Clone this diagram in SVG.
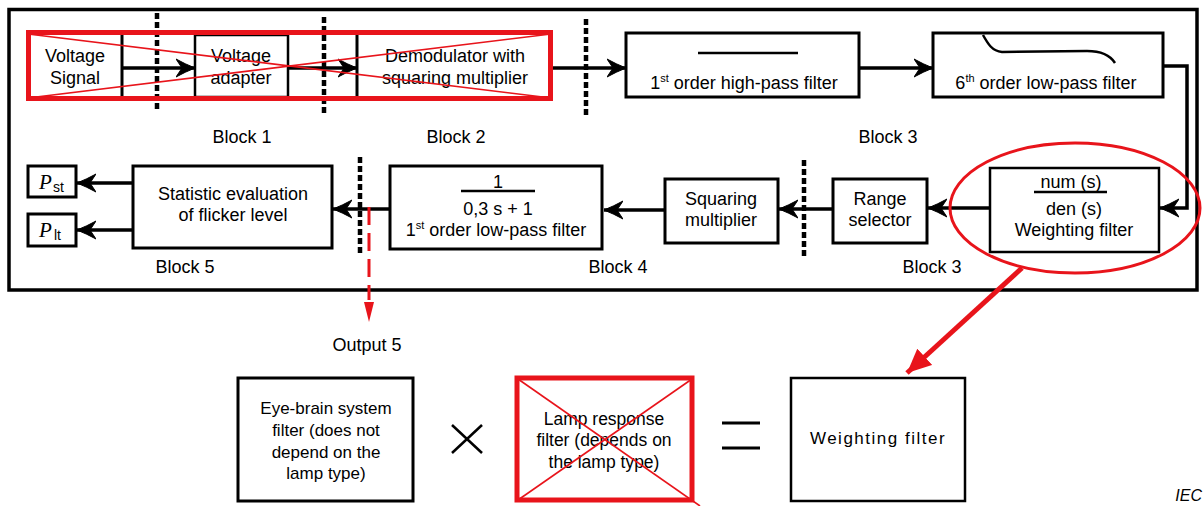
<svg xmlns="http://www.w3.org/2000/svg" width="1203" height="506" viewBox="0 0 1203 506">
<defs>
<style>
text{font-family:"Liberation Sans",Arial,sans-serif;fill:#000}
.t18{font-size:18px;text-anchor:middle}
.t17{font-size:17px;text-anchor:middle}
.box{fill:#fff;stroke:#000;stroke-width:3}
.conn{fill:none;stroke:#000;stroke-width:3.5}
.arr{marker-end:url(#ah)}
.dash{stroke:#000;stroke-width:4.5;stroke-dasharray:6 3;fill:none}
.red{fill:none;stroke:#e8141b}
.sup{font-size:11px}
</style>
<marker id="ah" markerUnits="userSpaceOnUse" markerWidth="22" markerHeight="22" refX="19" refY="10" orient="auto">
<path d="M0,1 Q9,6 19,10 Q9,14 0,19 L6,10 Z" fill="#000" stroke="#000" stroke-width="1"/>
</marker>
<marker id="rah" markerUnits="userSpaceOnUse" markerWidth="26" markerHeight="22" refX="24" refY="11" orient="auto">
<path d="M0,0 L24,11 L0,22 Z" fill="#e8141b"/>
</marker>
</defs>
<rect width="1203" height="506" fill="#fff"/>
<rect x="9" y="9.5" width="1188" height="280.5" fill="none" stroke="#000" stroke-width="3.5"/>

<g id="connectors">
<line class="conn arr" x1="122" y1="68" x2="195" y2="68"/>
<line class="conn arr" x1="288" y1="68" x2="357" y2="68"/>
<line class="conn arr" x1="551" y1="68" x2="626" y2="68"/>
<line class="conn arr" x1="860" y1="68" x2="933" y2="68"/>
<polyline class="conn arr" points="1163,66 1187,66 1187,208 1160,208"/>
<line class="conn arr" x1="990" y1="208" x2="928" y2="208"/>
<line class="conn arr" x1="833" y1="209" x2="779" y2="209"/>
<line class="conn arr" x1="665" y1="210" x2="604" y2="210"/>
<line class="conn arr" x1="390" y1="209" x2="333" y2="209"/>
<polyline class="conn arr" points="133,183 104,183 77,183"/>
<polyline class="conn arr" points="133,230 104,230 77,230"/>
<line x1="369" y1="207" x2="369" y2="300" stroke="#e8141b" stroke-width="3" stroke-dasharray="18 8"/>
<polygon points="364,302 374,302 369,322" fill="#e8141b"/>
<line x1="1022" y1="268" x2="907" y2="373" stroke="#e8141b" stroke-width="5" marker-end="url(#rah)"/>
</g>

<g id="dividers">
<line class="dash" x1="157" y1="13" x2="157" y2="112"/>
<line class="dash" x1="324" y1="17" x2="324" y2="116"/>
<line class="dash" x1="586" y1="19" x2="586" y2="115"/>
<line class="dash" x1="804" y1="160" x2="804" y2="257"/>
<line class="dash" x1="360" y1="157" x2="360" y2="253"/>
</g>

<g id="voltage-signal">
<line x1="122" y1="34" x2="122" y2="98" stroke="#000" stroke-width="3"/>
<text class="t18" x="75" y="62">Voltage</text>
<text class="t18" x="75" y="84">Signal</text>
</g>
<g id="voltage-adapter">
<rect x="195" y="35" width="93" height="62" fill="#fff" stroke="#000" stroke-width="2.5"/>
<text class="t18" x="241" y="62">Voltage</text>
<text class="t18" x="241" y="84">adapter</text>
</g>
<g id="demodulator">
<line x1="357" y1="34" x2="357" y2="98" stroke="#000" stroke-width="3"/>
<text class="t18" x="455" y="62">Demodulator with</text>
<text class="t18" x="455" y="84">squaring multiplier</text>
</g>
<g id="red-cross-top">
<line class="red" stroke-width="1.6" x1="28" y1="34" x2="551" y2="98"/>
<line class="red" stroke-width="1.6" x1="28" y1="98" x2="551" y2="34"/>
<rect class="red" x="28.5" y="32.5" width="522" height="66" stroke-width="5"/>
</g>

<g id="hpf">
<rect class="box" x="626" y="33" width="233" height="64"/>
<line x1="698" y1="53" x2="798" y2="53" stroke="#000" stroke-width="2.5"/>
<text class="t18" x="744" y="89">1<tspan class="sup" dy="-7">st</tspan><tspan dy="7"> order high-pass filter</tspan></text>
</g>
<g id="lpf6">
<rect class="box" x="933" y="33" width="230" height="64"/>
<path d="M983,35 C988,44 992,51 1002,52 L1087,51 C1102,51 1110,55 1115,63" fill="none" stroke="#000" stroke-width="2.5"/>
<text class="t18" x="1046" y="89">6<tspan class="sup" dy="-7">th</tspan><tspan dy="7"> order low-pass filter</tspan></text>
</g>

<g id="block-labels">
<text class="t18" x="242" y="143">Block 1</text>
<text class="t18" x="456" y="143">Block 2</text>
<text class="t18" x="888" y="143">Block 3</text>
<text class="t18" x="185" y="273">Block 5</text>
<text class="t18" x="618" y="273">Block 4</text>
<text class="t18" x="932" y="273">Block 3</text>
</g>

<g id="weighting">
<rect x="990" y="168" width="169" height="84" fill="#fff" stroke="#000" stroke-width="2.5"/>
<text class="t18" x="1071" y="188">num (s)</text>
<line x1="1034" y1="192" x2="1107" y2="192" stroke="#000" stroke-width="2.5"/>
<text class="t18" x="1074" y="215">den (s)</text>
<text class="t18" x="1074" y="236">Weighting filter</text>
</g>
<ellipse id="red-ellipse" cx="1075" cy="208" rx="125" ry="65" fill="none" stroke="#e8141b" stroke-width="3"/>

<g id="range-selector">
<rect class="box" x="833" y="179" width="94" height="64"/>
<text class="t18" x="880" y="205">Range</text>
<text class="t18" x="880" y="226">selector</text>
</g>
<g id="squaring">
<rect class="box" x="665" y="179" width="113" height="64"/>
<text class="t18" x="721" y="205">Squaring</text>
<text class="t18" x="721" y="226">multiplier</text>
</g>
<g id="lpf1">
<rect class="box" x="390" y="166" width="212" height="83"/>
<text class="t18" x="498" y="188">1</text>
<line x1="461" y1="191" x2="535" y2="191" stroke="#000" stroke-width="2.5"/>
<text class="t18" x="498" y="215">0,3 s + 1</text>
<text class="t18" x="496" y="236">1<tspan class="sup" dy="-7">st</tspan><tspan dy="7"> order low-pass filter</tspan></text>
</g>
<g id="statistic">
<rect class="box" x="133" y="166" width="199" height="82"/>
<text class="t18" x="233" y="200">Statistic evaluation</text>
<text class="t18" x="233" y="221">of flicker level</text>
</g>
<g id="pst">
<rect class="box" x="28" y="166" width="48" height="31"/>
<text x="39" y="189" style="font-family:'Liberation Serif',serif;font-style:italic;font-size:21px">P</text>
<text x="53" y="192" style="font-size:14px">st</text>
</g>
<g id="plt">
<rect class="box" x="28" y="214" width="48" height="32"/>
<text x="39" y="237" style="font-family:'Liberation Serif',serif;font-style:italic;font-size:21px">P</text>
<text x="54" y="240" style="font-size:14px">lt</text>
</g>

<text id="output5" class="t18" x="367" y="351">Output 5</text>

<g id="eye-brain">
<rect class="box" x="238" y="378" width="175" height="123"/>
<text class="t17" x="326" y="414">Eye-brain system</text>
<text class="t17" x="326" y="436">filter (does not</text>
<text class="t17" x="326" y="458">depend on the</text>
<text class="t17" x="326" y="479">lamp type)</text>
</g>
<g id="times">
<line x1="452" y1="425" x2="482" y2="453" stroke="#000" stroke-width="2.5"/>
<line x1="452" y1="453" x2="482" y2="425" stroke="#000" stroke-width="2.5"/>
</g>
<g id="lamp">
<rect x="517" y="378" width="175" height="122" fill="#fff"/>
<text x="604" y="425" style="font-size:17.5px;text-anchor:middle">Lamp response</text>
<text x="604" y="446" style="font-size:17.5px;text-anchor:middle">filter (depends on</text>
<text x="604" y="468" style="font-size:17.5px;text-anchor:middle">the lamp type)</text>
<line class="red" stroke-width="1.6" x1="518" y1="379" x2="700" y2="506"/>
<line class="red" stroke-width="1.6" x1="518" y1="500" x2="692" y2="379"/>
<rect class="red" x="517" y="378" width="175" height="122" stroke-width="5"/>
</g>
<g id="equals">
<line x1="722" y1="423" x2="760" y2="423" stroke="#000" stroke-width="3"/>
<line x1="722" y1="448" x2="760" y2="448" stroke="#000" stroke-width="3"/>
</g>
<g id="weighting-result">
<rect x="791" y="378" width="174" height="123" fill="#fff" stroke="#000" stroke-width="2.5"/>
<text x="878" y="444" style="font-size:17px;text-anchor:middle;letter-spacing:1.5px">Weighting filter</text>
</g>
<text id="iec" x="1202" y="501" style="font-size:16px;font-style:italic;text-anchor:end">IEC</text>
</svg>
